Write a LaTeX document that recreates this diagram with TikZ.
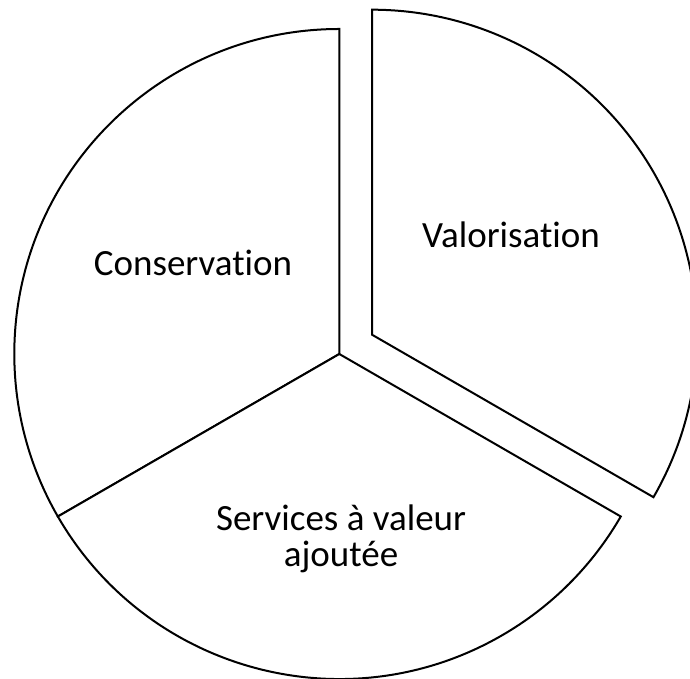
\documentclass[tikz,border=0pt]{standalone}
\usepackage{fontspec}
\setmainfont{Carlito}[Ligatures={NoCommon}]
\begin{document}
\begin{tikzpicture}[x=1pt,y=1pt,
  slice/.style={draw=black,line width=2pt,fill=white},
  lbl/.style={font=\fontsize{37}{36}\selectfont,inner sep=0pt,anchor=base,align=center}]
\useasboundingbox (0,0) rectangle (690,679);
\clip (0,0) rectangle (690,679);
\coordinate (C) at (339.3,325);
\coordinate (V) at (372,344.3);
\draw[slice] (C) -- ++(90:325) arc[start angle=90,end angle=210,radius=325] -- cycle;
\draw[slice] (C) -- ++(210:325) arc[start angle=210,end angle=330,radius=325] -- cycle;
\draw[slice] (V) -- ++(-30:325) arc[start angle=-30,end angle=90,radius=325] -- cycle;
\node[lbl] (cons) at (193,403) {Conservation};
\node[lbl] (valo) at (511,431.5) {Valorisation};
\node[lbl] (serv) at (341,112.3) {Services à valeur\\ajoutée};
\end{tikzpicture}
\end{document}
